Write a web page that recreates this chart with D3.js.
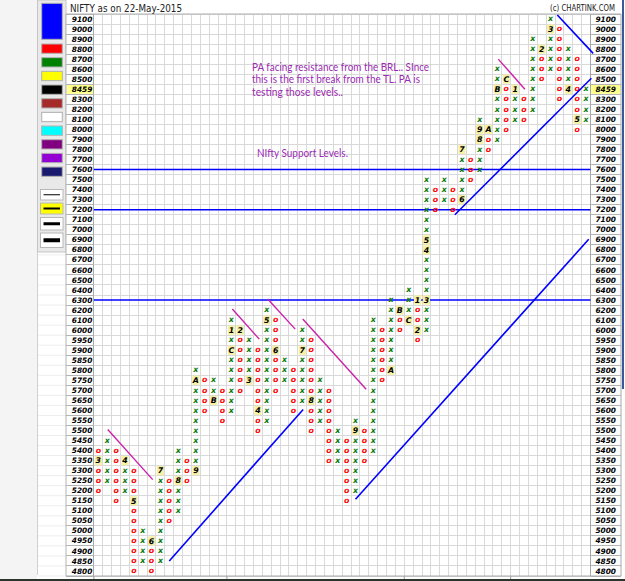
<!DOCTYPE html>
<html><head><meta charset="utf-8">
<script src="https://cdn.jsdelivr.net/npm/d3@7"></script>
<style>
html,body{margin:0;padding:0;background:#fff;overflow:hidden;}
svg{display:block;}
</style></head><body>
<svg id="c" width="625" height="581"></svg>
<script>
// ---------------- DATA ----------------
const chartTitle = "NIFTY as on 22-May-2015";
const lastPrice = "8459";
const boxLevels = [9100,9000,8900,8800,8700,8600,8500,8400,8300,8200,8100,8000,7900,7800,7700,7600,7500,7400,7300,7200,7100,7000,6900,6800,6700,6600,6500,6400,6300,6200,6100,6000,5950,5900,5850,5800,5750,5700,5650,5600,5550,5500,5450,5400,5350,5300,5250,5200,5150,5100,5050,5000,4950,4900,4850,4800];
const rowLabels = boxLevels.map(v => v === 8400 ? lastPrice : String(v));

const columnTypes = ["O","X","O","X","O","X","O","X","O","X","O","X","O","X","O","X","O","X","O","X","O","X","O","X","O","X","O","X","O","X","O","X","O","X","O","X","O","X","O","X","O","X","O","X","O","X","O","X","O","X","O","X","O","X","O","X"];
const columnLows  = [5200,5250,5150,5200,4800,4850,4800,4850,5050,5100,5250,5300,5600,5650,5550,5600,5700,5750,5500,5550,5700,5750,5600,5650,5500,5550,5350,5350,5150,5200,5350,5400,5750,5800,6000,6100,5950,6000,7200,7300,7200,7300,7500,7600,7800,7900,8000,8100,8100,8200,8500,8600,8300,8400,8000,8100];
const columnHighs = [5400,5450,5400,5350,5300,5000,4950,5300,5250,5400,5350,5800,5750,5750,5700,6100,6000,5950,5900,6200,6100,5850,5800,6000,5950,5750,5700,5500,5450,5550,5500,6100,6000,6300,6200,6400,6300,7500,7400,7500,7400,7800,7700,8100,8000,8600,8500,8400,8300,8900,8800,9100,9000,8800,8700,8400];

const markerColumns = [0,3,4,6,7,9,11,11,13,15,15,16,17,18,19,20,23,24,29,33,34,35,36,36,37,37,37,41,41,43,43,44,45,46,47,50,51,53,54];
const markerLevels  = [5350,5350,5150,4950,5300,5250,5300,5750,5650,5900,6000,6000,5750,5600,6100,5900,5900,5650,5500,5800,6200,6100,6300,6000,6300,6800,6900,7300,7800,7900,8000,8000,8400,8500,8400,8800,9000,8400,8100];
const markerTexts   = ["3","4","5","6","7","8","9","A","B","C","1","2","3","4","5","6","7","8","9","A","B","C","1","2","3","4","5","6","7","8","9","A","B","C","1","2","3","4","5"];

const supportLevels = [7600, 7200, 6300];
// trend lines in [column, row] units
const blueLineStarts = [[8,54],[29,47.85],[40.2,19.5],[51.76,-0.4]];
const blueLineEnds   = [[23.1,38.9],[55.3,21.95],[55.6,5.9],[55.8,3.42]];
const pinkLineStarts = [[1.06,40.9],[15.11,28.9],[19.1,27.9],[23.05,29.9],[45.1,4.0]];
const pinkLineEnds   = [[6.13,45.9],[18.15,31.9],[22.2,30.9],[30.2,36.9],[48.1,7.0]];

const noteLines = ["PA facing resistance from the BRL.. SInce","this is the first break from the TL. PA is","testing those levels.."];
const supportNote = "NIfty Support Levels.";
const paletteColors = ["#ff0000","#008000","#ffff00","#000000","#a52a2a","#ffffff","#00ffff","#800080","#9400d3","#191970"];
const lineWidths = [1,2,3,4];

// ---------------- LAYOUT ----------------
const svg = d3.select("#c");
const gx0 = 93.9, gx1 = 590.5, gy0 = 14, gy1 = 576;
const nCols = columnTypes.length;
const x = d3.scaleLinear().domain([-0.5, nCols - 0.5]).range([gx0, gx1]);
const yRow = d3.scaleLinear().domain([-0.5, boxLevels.length - 0.5]).range([gy0, gy1]);
const yBand = d3.scaleBand().domain(rowLabels).range([gy0, gy1]).padding(0);
const rowOf = v => boxLevels.indexOf(v);

// backgrounds
svg.append("rect").attr("x",0).attr("y",0).attr("width",625).attr("height",581).attr("fill","#ffffff");
svg.append("rect").attr("x",0).attr("y",0).attr("width",37).attr("height",581).attr("fill","#f4f4f4");
svg.append("line").attr("x1",37.5).attr("x2",37.5).attr("y1",0).attr("y2",575).attr("stroke","#d0d0d0");
for (let i = 0; i < 60; i++) {
  svg.append("line").attr("x1",38).attr("x2",66).attr("y1",gy0+i*10.036).attr("y2",gy0+i*10.036).attr("stroke","#ededed");
}

// left tool panel
svg.append("rect").attr("x",37.5).attr("y",0).attr("width",28.5).attr("height",252).attr("fill","#e9e9e9").attr("stroke","#c4c4c4");
svg.append("rect").attr("x",41.7).attr("y",3.3).attr("width",20.6).attr("height",36).attr("fill","#0000ff").attr("stroke","#b0b0b0");
svg.selectAll(".sw").data(paletteColors).enter().append("rect")
  .attr("x",41.7).attr("y",(d,i)=>44+i*13.67).attr("width",20.6).attr("height",9.3)
  .attr("fill",d=>d).attr("stroke","#b0b0b0");
const btnY = [189.5,203,217.5,233];
const btnH = [10.5,11,12.5,14.5];
lineWidths.forEach((w,i)=>{
  svg.append("rect").attr("x",40.5).attr("y",btnY[i]).attr("width",22.5).attr("height",btnH[i])
    .attr("fill", i===1 ? "#ffff00" : "#ffffff").attr("stroke","#b8b8b8");
  svg.append("line").attr("x1",43.5).attr("x2",60).attr("y1",btnY[i]+btnH[i]/2).attr("y2",btnY[i]+btnH[i]/2)
    .attr("stroke","#000").attr("stroke-width",w);
});

// label columns
svg.append("rect").attr("x",66).attr("y",gy0).attr("width",gx0-66).attr("height",gy1-gy0).attr("fill","#fff");
svg.append("rect").attr("x",gx1).attr("y",gy0).attr("width",621-gx1).attr("height",gy1-gy0).attr("fill","#fff");
[[66,gx0],[gx1,621]].forEach(([a,b])=>{
  svg.append("rect").attr("x",a+0.5).attr("y",yBand(lastPrice)+0.5).attr("width",b-a-1).attr("height",yBand.bandwidth()-1).attr("fill","#ffff8c");
});

// grid
const grid = svg.append("g");
d3.range(nCols+1).forEach(i=>{
  grid.append("line").attr("x1",x(i-0.5)).attr("x2",x(i-0.5)).attr("y1",gy0).attr("y2",gy1)
    .attr("stroke", i===0 ? "#a8a8a8" : "#d9d9d9").attr("stroke-width",1).attr("shape-rendering","crispEdges");
});
d3.range(boxLevels.length+1).forEach(i=>{
  grid.append("line").attr("x1",gx0).attr("x2",gx1).attr("y1",yRow(i-0.5)).attr("y2",yRow(i-0.5))
    .attr("stroke","#d9d9d9").attr("stroke-width",1).attr("shape-rendering","crispEdges");
  grid.append("line").attr("x1",66).attr("x2",gx0).attr("y1",yRow(i-0.5)).attr("y2",yRow(i-0.5))
    .attr("stroke","#b4b4b4").attr("shape-rendering","crispEdges");
  grid.append("line").attr("x1",gx1).attr("x2",621).attr("y1",yRow(i-0.5)).attr("y2",yRow(i-0.5))
    .attr("stroke","#b4b4b4").attr("shape-rendering","crispEdges");
});
grid.append("line").attr("x1",66).attr("x2",66).attr("y1",gy0).attr("y2",gy1).attr("stroke","#b4b4b4");
grid.append("line").attr("x1",gx1).attr("x2",gx1).attr("y1",gy0).attr("y2",gy1).attr("stroke","#a8a8a8");
grid.append("line").attr("x1",621).attr("x2",621).attr("y1",gy0).attr("y2",gy1).attr("stroke","#a8a8a8");
grid.append("line").attr("x1",66).attr("x2",621).attr("y1",gy0).attr("y2",gy0).attr("stroke","#b0b0b0");

// axes
const axisFont = "'DejaVu Sans', sans-serif";
const leftAxis = svg.append("g").attr("transform",`translate(${gx0-1.5},0)`)
  .call(d3.axisLeft(yBand).tickSize(0).tickPadding(0));
const rightAxis = svg.append("g").attr("transform",`translate(616,0)`)
  .call(d3.axisLeft(yBand).tickSize(0).tickPadding(0));
[leftAxis,rightAxis].forEach(g=>{
  g.select(".domain").remove();
  g.selectAll("text").attr("font-family",axisFont).attr("font-size","7.4px")
    .attr("font-weight","bold").attr("font-style","italic").attr("fill","#000").attr("dy","0.35em");
});

// support lines
svg.selectAll(".sup").data(supportLevels).enter().append("line")
  .attr("x1",x(-0.5)).attr("x2",x(nCols-0.5))
  .attr("y1",d=>yRow(rowOf(d))).attr("y2",d=>yRow(rowOf(d)))
  .attr("stroke","#0000ff").attr("stroke-width",1.6);

// boxes
const symFont = "'DejaVu Sans', sans-serif";
const markerKey = new Map(markerColumns.map((c,i)=>[c+"_"+markerLevels[i], markerTexts[i]]));
const cells = [];
columnTypes.forEach((t,c)=>{
  const r0 = rowOf(columnHighs[c]), r1 = rowOf(columnLows[c]);
  for (let r=r0; r<=r1; r++) {
    cells.push({c, r, t, m: markerKey.get(c+"_"+boxLevels[r])});
  }
});
const cg = svg.append("g");
cg.selectAll("rect.mk").data(cells.filter(d=>d.m)).enter().append("rect")
  .attr("x",d=>x(d.c)-3.6).attr("y",d=>yRow(d.r)-4.6).attr("width",7.2).attr("height",9.2)
  .attr("fill","#f6f1a6");
cg.selectAll("text.sym").data(cells).enter().append("text")
  .attr("x",d=>x(d.c)).attr("y",d=>yRow(d.r)).attr("dy", d=> d.m ? "0.36em" : "0.28em")
  .attr("text-anchor","middle")
  .attr("font-family",symFont).attr("font-weight","bold").attr("font-style","italic")
  .attr("font-size", d=> d.m ? "7.8px" : "7.8px")
  .attr("fill", d=> d.m ? "#000" : (d.t==="X" ? "#0a7a0a" : "#ff0000"))
  .text(d=> d.m ? d.m : (d.t==="X" ? "x" : "o"));

// trend lines
const lineGen = d3.line().x(d=>x(d[0])).y(d=>yRow(d[1]));
blueLineStarts.forEach((s,i)=>{
  svg.append("path").attr("d",lineGen([s, blueLineEnds[i]])).attr("stroke","#0000ff").attr("stroke-width",1.6).attr("fill","none");
});
pinkLineStarts.forEach((s,i)=>{
  svg.append("path").attr("d",lineGen([s, pinkLineEnds[i]])).attr("stroke","#cc22aa").attr("stroke-width",1.4).attr("fill","none");
});

// notes
const noteFont = "Lato, 'Open Sans', sans-serif";
const noteWidths = [177, 168, 91];
noteLines.forEach((t,i)=>{
  svg.append("text").attr("x",252).attr("y",71+i*12.3).attr("font-family",noteFont).attr("font-size","11px")
    .attr("fill","#9a2ab2").attr("textLength",noteWidths[i]).attr("lengthAdjust","spacingAndGlyphs").text(t);
});
svg.append("text").attr("x",257).attr("y",156.5).attr("font-family",noteFont).attr("font-size","11px")
  .attr("fill","#9a2ab2").attr("textLength",91).attr("lengthAdjust","spacingAndGlyphs").text(supportNote);

// header
svg.append("text").attr("x",70).attr("y",11.5).attr("font-family","'DejaVu Sans', sans-serif").attr("font-size","10px")
  .attr("fill","#222").attr("textLength",112).attr("lengthAdjust","spacingAndGlyphs").text(chartTitle);
svg.append("text").attr("x",615).attr("y",11).attr("text-anchor","end").attr("font-family","'DejaVu Sans', sans-serif").attr("font-size","8px")
  .attr("fill","#222").attr("textLength",65).attr("lengthAdjust","spacingAndGlyphs").text("(c) CHARTINK.COM");

// bottom ticks and edges
const yearEdges = [0,15,35,47];
svg.selectAll(".yt").data(yearEdges).enter().append("line")
  .attr("x1",d=>x(d-0.5)).attr("x2",d=>x(d-0.5)).attr("y1",gy1).attr("y2",gy1+4).attr("stroke","#999");
svg.append("line").attr("x1",66).attr("x2",621).attr("y1",gy1).attr("y2",gy1).attr("stroke","#a8a8a8");
svg.append("rect").attr("x",0).attr("y",579).attr("width",625).attr("height",2).attr("fill","#2b352b");
svg.append("rect").attr("x",622).attr("y",0).attr("width",2).attr("height",389).attr("fill","#3a5aa0");
</script>
</body></html>
